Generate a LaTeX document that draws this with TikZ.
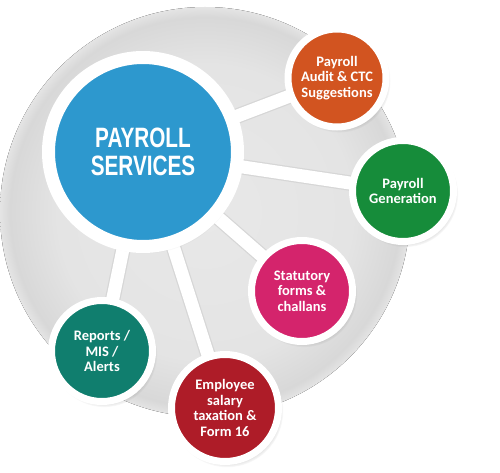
\documentclass[tikz,border=0pt]{standalone}
\usepackage{fontspec}
\setmainfont{Carlito}
\newfontfamily\headfont[FakeStretch=0.74]{Liberation Sans}
\usetikzlibrary{shadows,backgrounds}

\definecolor{discgray}{RGB}{228,228,228}
\definecolor{discrim}{RGB}{216,216,216}
\definecolor{svcblue}{RGB}{45,152,206}
\definecolor{auditorange}{RGB}{210,84,32}
\definecolor{gengreen}{RGB}{22,140,58}
\definecolor{statpink}{RGB}{212,36,108}
\definecolor{repteal}{RGB}{16,126,110}
\definecolor{taxred}{RGB}{174,28,40}

\pgfdeclareradialshading{discshade}{\pgfpoint{0bp}{0bp}}{%
  color(0bp)=(discgray!85!white); color(18bp)=(discgray);
  color(23.8bp)=(discrim); color(25bp)=(discgray); color(50bp)=(white)}

\begin{document}
\begin{tikzpicture}[x=1pt,y=-1pt,
    hub/.style={circle,draw=white,line width=13pt,minimum size=189pt,inner sep=0pt,
      fill=svcblue,text=white,align=center,
      font=\headfont\bfseries\fontsize{28}{28}\selectfont,
      circular drop shadow={shadow xshift=2pt,shadow yshift=-4pt,shadow scale=1.03,opacity=0.45}},
    spoke/.style={circle,draw=white,line width=7pt,minimum size=101pt,inner sep=0pt,
      text=white,align=center,font=\bfseries\fontsize{14.5}{15.7}\selectfont,
      circular drop shadow={shadow xshift=2pt,shadow yshift=-3pt,shadow scale=1.05,opacity=0.45}},
    conn/.style={draw=black!16,double=white,double distance=13pt,line width=1.2pt}]

  \useasboundingbox (0,0) rectangle (500,473);

  % services
  \node[hub] (svc) at (143,152) {PAYROLL\\SERVICES};
  \node[spoke,fill=auditorange,minimum size=98pt] (audit) at (337,78) {Payroll\\Audit \& CTC\\Suggestions};
  \node[spoke,fill=gengreen] (gen) at (403,191) {Payroll\\Generation};
  \node[spoke,fill=statpink] (stat) at (302,291) {Statutory\\forms \&\\challans};
  \node[spoke,fill=repteal] (reports) at (102,351) {Reports /\\MIS /\\Alerts};
  \node[spoke,fill=taxred,minimum size=107pt] (tax) at (225,408) {Employee\\salary\\taxation \&\\Form 16};

  \begin{pgfonlayer}{background}
    \fill[shading=discshade] (205,212) circle (205pt);
    \path
      (svc.center)
        edge [conn] (audit.center)
        edge [conn] (gen.center)
        edge [conn] (stat.center)
        edge [conn] (reports.center)
        edge [conn] (tax.center);
  \end{pgfonlayer}
\end{tikzpicture}
\end{document}
